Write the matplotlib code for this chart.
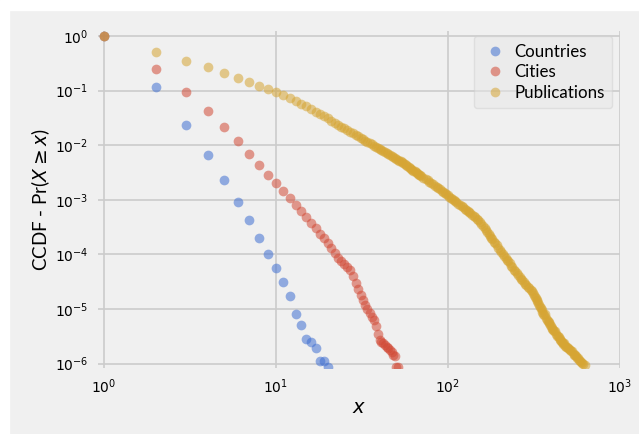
import numpy as np
import matplotlib
matplotlib.use("Agg")
import matplotlib.pyplot as plt
from matplotlib.patches import Rectangle

# CCDF values
countries_x = list(range(1, 21))
countries_ccdf = [1.0, 0.115, 0.0234, 0.00653, 0.0023, 9.2e-4, 4.2e-4, 2.0e-4, 1.0e-4, 5.6e-5,
                  3.1e-5, 1.7e-5, 8.0e-6, 5.2e-6, 2.8e-6, 2.5e-6, 1.95e-6, 1.13e-6, 1.13e-6, 8.7e-7]

cities_x = list(range(1, 50)) + [50, 51]
cities_ccdf = [1.0, 0.249, 0.0955, 0.0429, 0.0216, 0.0118, 0.0070, 0.0044, 0.0029, 0.0020,
               1.47e-3, 1.1e-3, 8.0e-4, 6.2e-4, 4.8e-4, 3.8e-4, 3.0e-4, 2.4e-4, 1.97e-4, 1.6e-4,
               1.33e-4, 1.07e-4, 8.7e-5, 7.6e-5, 6.6e-5, 5.9e-5, 5.1e-5, 4.0e-5, 3.0e-5, 2.3e-5,
               1.8e-5, 1.45e-5, 1.17e-5, 1.0e-5, 8.5e-6, 7.2e-6, 6.3e-6, 4.8e-6, 3.5e-6, 2.7e-6,
               2.5e-6, 2.35e-6, 2.2e-6, 2.05e-6, 1.9e-6, 1.75e-6, 1.6e-6, 1.45e-6, 1.38e-6,
               8.5e-7, 8.5e-7]

pub_x = list(range(1, 70)) + [
    70, 72, 74, 76, 78, 80, 82, 84, 86, 88, 90, 92, 94, 96, 98, 100, 102, 104, 106, 108,
    110, 112, 115, 117, 120, 122, 125, 127, 130, 132, 135, 138, 141, 144, 147, 150, 153, 156,
    160, 163, 166, 169, 172, 175, 178, 181, 185, 188, 192, 196, 200, 204, 208, 212, 216, 220,
    224, 228, 233, 237, 242, 246, 251, 256, 261, 266, 271, 276, 281, 286, 291, 296, 302, 307,
    313, 316, 320, 323, 327, 330, 334, 338, 342, 346, 350, 354, 358, 362, 366, 370, 375, 380,
    384, 388, 392, 396, 401, 405, 410, 415, 420, 425, 430, 435, 440, 445, 450, 455, 460, 464,
    468, 474, 480, 486, 492, 498, 505, 512, 520, 528, 537, 543, 550, 557, 565, 572, 580, 588,
    596, 604, 612, 625]
# log10 of the CCDF
pub_log_ccdf = [
    0.0, -0.287, -0.452, -0.574, -0.671, -0.763, -0.837, -0.910, -0.970, -1.030,
    -1.080, -1.140, -1.197, -1.245, -1.290, -1.340, -1.386, -1.430, -1.470, -1.510,
    -1.550, -1.590, -1.626, -1.660, -1.693, -1.724, -1.755, -1.784, -1.812, -1.839,
    -1.865, -1.891, -1.916, -1.940, -1.963, -1.986, -2.008, -2.029, -2.050, -2.070,
    -2.090, -2.109, -2.128, -2.147, -2.165, -2.183, -2.200, -2.217, -2.233, -2.250,
    -2.265, -2.281, -2.299, -2.317, -2.335, -2.352, -2.370, -2.386, -2.403, -2.419,
    -2.435, -2.451, -2.466, -2.481, -2.496, -2.511, -2.525, -2.540, -2.554,
    -2.568, -2.595, -2.621, -2.647, -2.672, -2.696, -2.720, -2.743, -2.766, -2.788,
    -2.810, -2.831, -2.852, -2.875, -2.898, -2.920, -2.942, -2.963, -2.984, -3.005,
    -3.025, -3.045, -3.074, -3.093, -3.120, -3.139, -3.165, -3.183, -3.208, -3.225,
    -3.250, -3.274, -3.298, -3.321, -3.343, -3.377, -3.411, -3.444,
    -3.487, -3.523, -3.557, -3.592, -3.625, -3.658, -3.691, -3.723, -3.765, -3.795,
    -3.835, -3.875, -3.913, -3.951, -3.989, -4.025, -4.061, -4.096,
    -4.130, -4.164, -4.206, -4.238, -4.278, -4.309, -4.348, -4.380, -4.413, -4.443,
    -4.475, -4.503, -4.534, -4.562, -4.591, -4.618, -4.651, -4.677,
    -4.709, -4.736, -4.771, -4.797, -4.831, -4.856, -4.890, -4.923, -4.956, -4.988,
    -5.021, -5.051, -5.083, -5.108, -5.100, -5.157, -5.210, -5.218,
    -5.241, -5.264, -5.288, -5.311, -5.339, -5.362, -5.389, -5.411, -5.410, -5.456,
    -5.500, -5.499, -5.521, -5.542, -5.563, -5.583, -5.604, -5.620,
    -5.636, -5.630, -5.669, -5.700, -5.701, -5.717, -5.735, -5.753, -5.773, -5.770,
    -5.815, -5.850, -5.849, -5.868, -5.888, -5.890, -5.925, -5.960,
    -5.964, -5.983, -6.002, -6.030]
pub_ccdf = 10 ** np.array(pub_log_ccdf)

bg = '#f0f0f0'
grid_col = '#cbcbcb'
label_font = ['Lato', 'DejaVu Sans']

fig = plt.figure(figsize=(6.39, 4.34), dpi=100, facecolor=bg)
# white strips on the left and top edge like in the reference
fig.patches.append(Rectangle((0, 0), 9 / 639, 1, transform=fig.transFigure, color='white', zorder=-1))
fig.patches.append(Rectangle((0, 1 - 10 / 434), 1, 10 / 434, transform=fig.transFigure, color='white', zorder=-1))

ax = fig.add_axes([98 / 639, 1 - 368 / 434, (620 - 98) / 639, (368 - 31) / 434])
ax.set_facecolor(bg)

ms = 7
ax.plot(countries_x, countries_ccdf, 'o', color='#3f6fd1', alpha=0.55, ms=ms, mew=0, label='Countries')
ax.plot(cities_x, cities_ccdf, 'o', color='#d24a36', alpha=0.55, ms=ms, mew=0, label='Cities')
ax.plot(pub_x, pub_ccdf, 'o', color='#d6a533', alpha=0.55, ms=ms, mew=0, label='Publications')

ax.set_xscale('log')
ax.set_yscale('log')
ax.set_xlim(10 ** -0.035, 1000)
ax.set_ylim(10 ** -6.08, 10 ** 0.09)
ax.minorticks_off()

ax.grid(True, color=grid_col, linewidth=1.2)
ax.set_axisbelow(True)
for s in ax.spines.values():
    s.set_visible(False)
ax.tick_params(length=0, labelsize=10, pad=7)

ax.set_xlabel('$x$', fontsize=14, labelpad=1)
ax.set_ylabel(r'CCDF - Pr($X \geq x$)', fontsize=13.5, family=label_font, labelpad=2)

leg = ax.legend(loc='upper right', bbox_to_anchor=(0.985, 0.985), borderaxespad=0,
                numpoints=1, prop={'family': label_font, 'size': 12.2},
                frameon=True, fancybox=True, framealpha=0.5,
                borderpad=0.45, handlelength=1.6, handletextpad=0.35, labelspacing=0.27)
leg.get_frame().set_facecolor('#e8e8e8')
leg.get_frame().set_edgecolor('#d0d0d0')

fig.savefig('out.png', dpi=100, facecolor=fig.get_facecolor())
